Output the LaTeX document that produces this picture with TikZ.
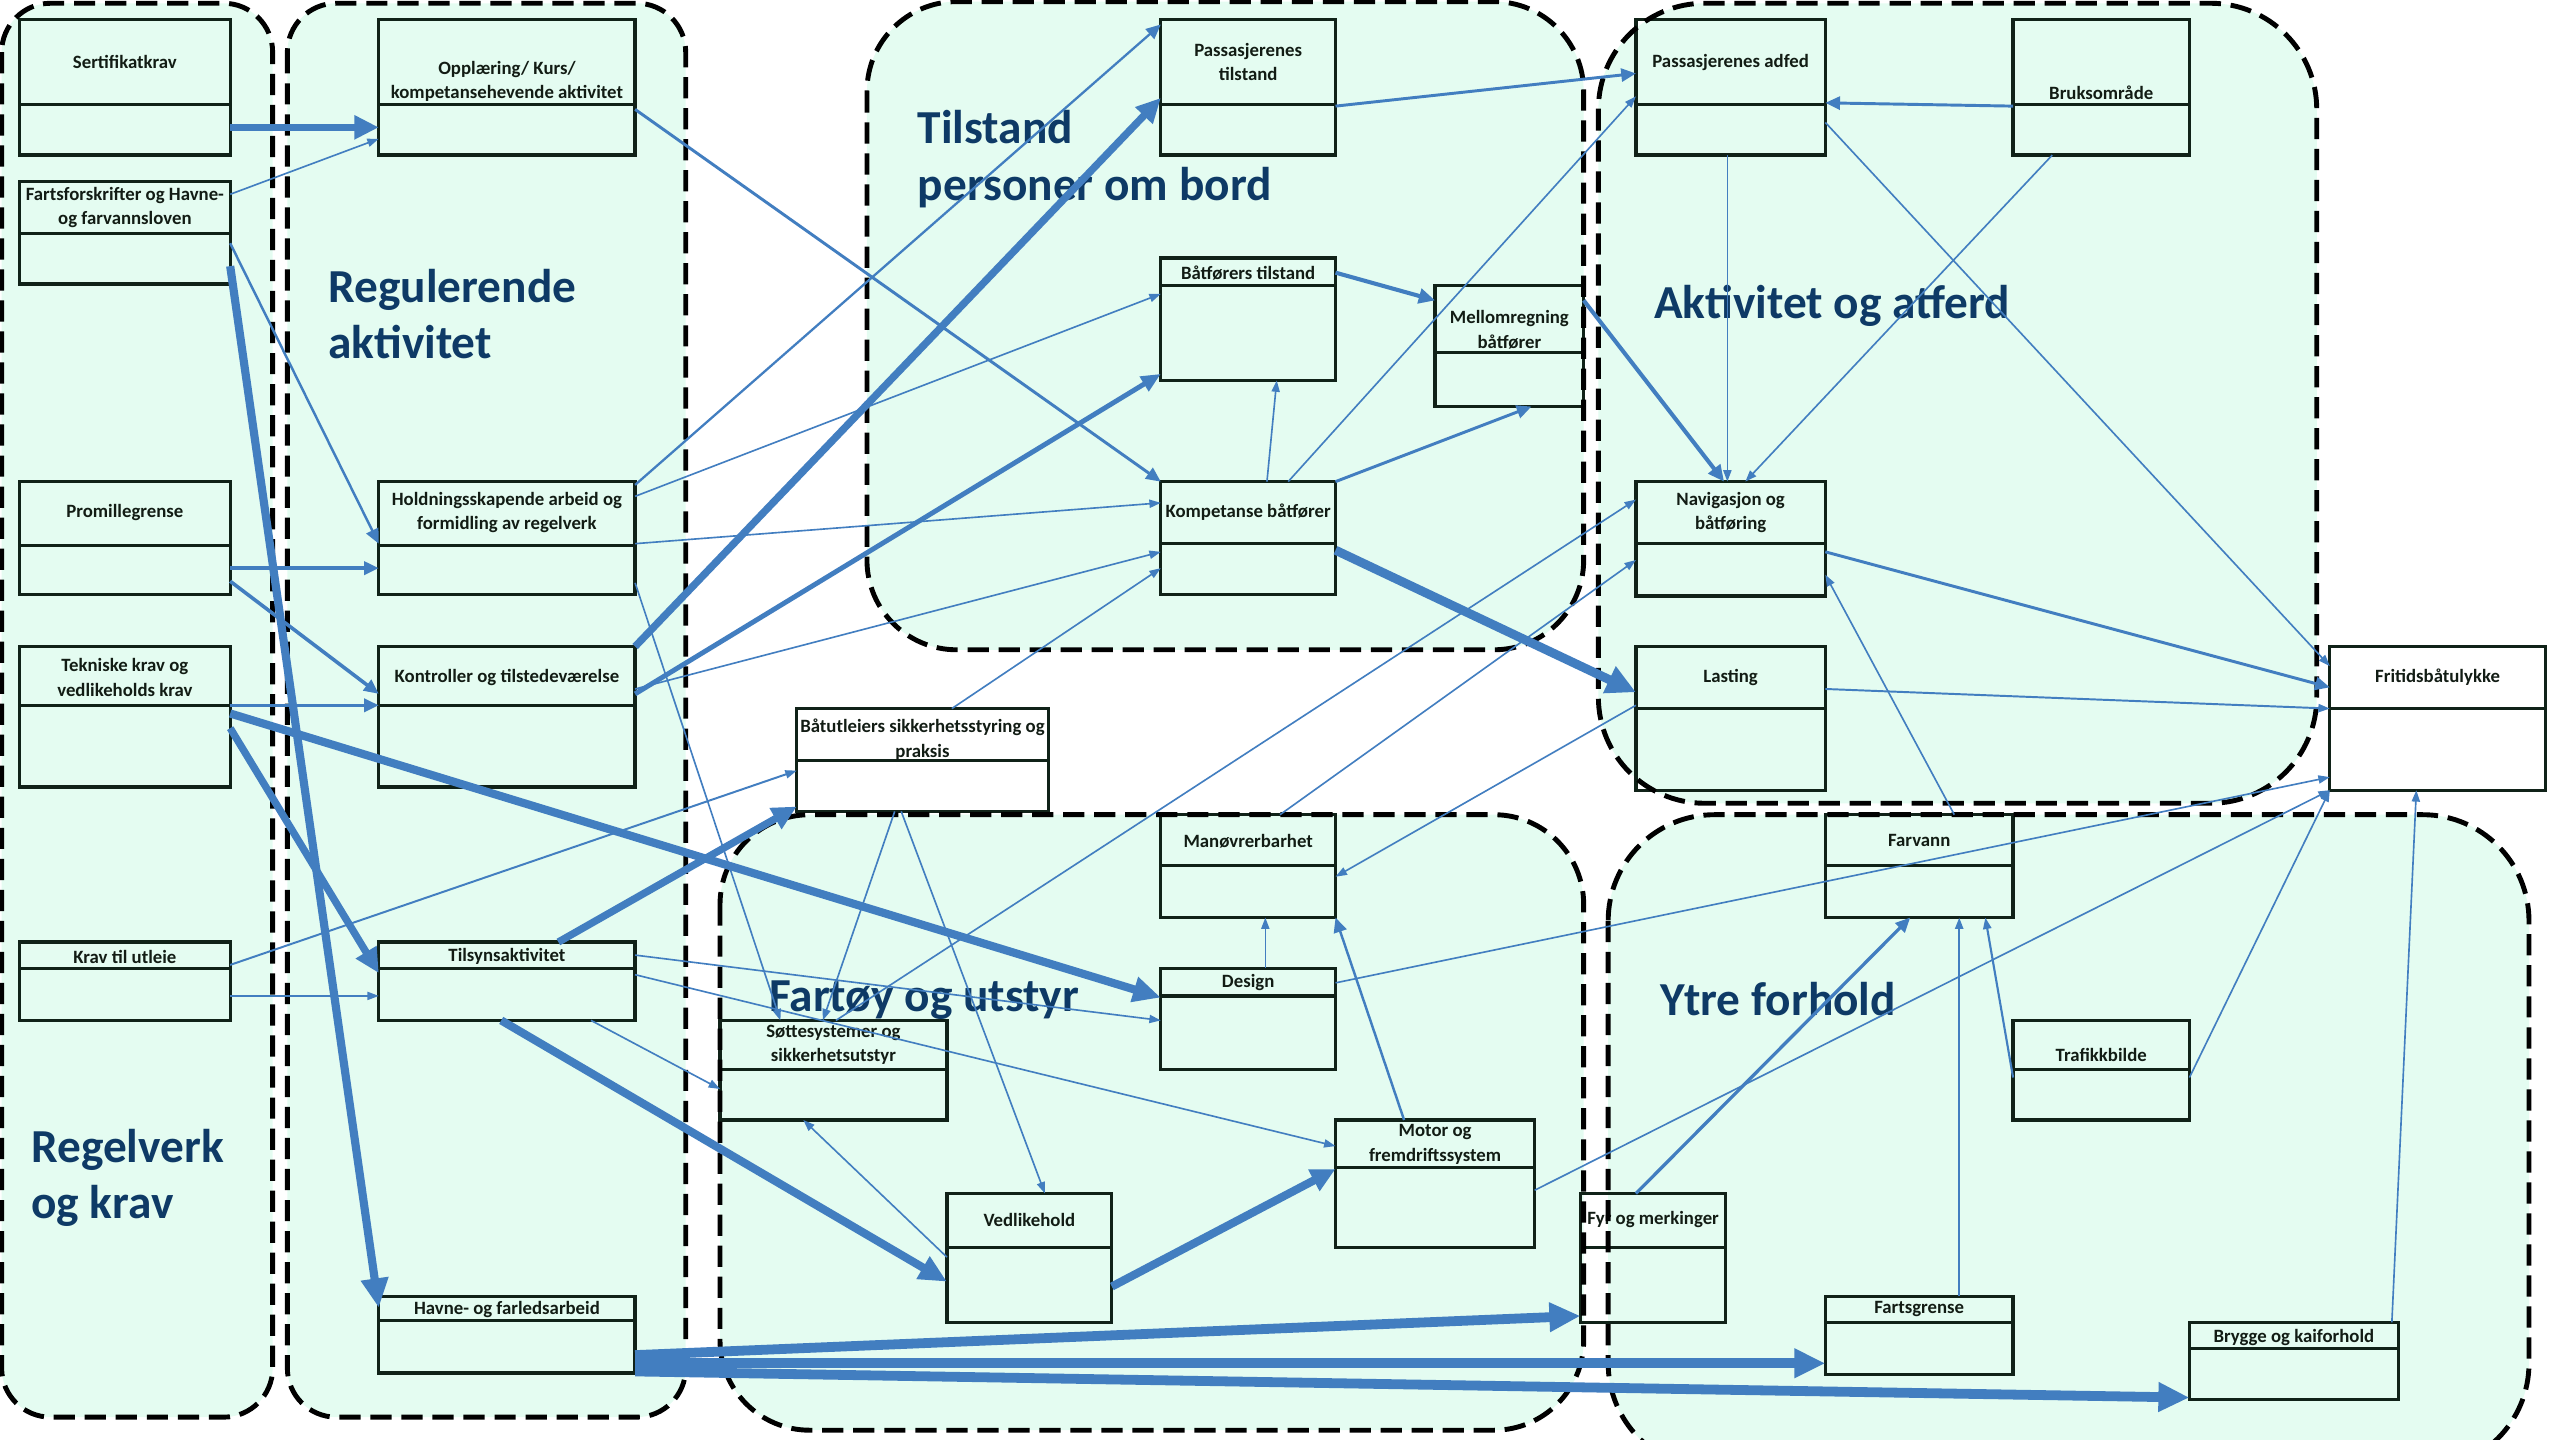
\documentclass[tikz,border=0pt]{standalone}
\usepackage{fontspec}
\setmainfont{Carlito}
\usetikzlibrary{arrows.meta}

\definecolor{mint}{RGB}{228,252,241}
\definecolor{conn}{RGB}{66,126,192}
\definecolor{edge}{RGB}{16,34,24}
\definecolor{titlec}{RGB}{14,58,102}
\definecolor{labelc}{RGB}{18,28,20}

\tikzset{
  region/.style={fill=mint, rounded corners=#1},
  regionedge/.style={draw=black, line width=3pt, dash pattern=on 13pt off 6pt, rounded corners=#1},
  umlbox/.style={draw=edge, line width=2pt, inner sep=0pt, outer sep=0pt, rectangle},
  boxdivider/.style={draw=edge, line width=2pt},
  boxlabel/.style={font=\fontsize{11.5}{15}\selectfont\bfseries, text=labelc, align=center, inner sep=0pt},
  grouptitle/.style={font=\fontsize{29}{34.5}\selectfont\bfseries, text=titlec, align=left, inner sep=0pt, anchor=north west},
  link/.style={draw=conn, line width=1pt, -{Triangle[length=7pt,width=5pt]}},
  medlink/.style={draw=conn, line width=1.8pt, -{Triangle[length=9pt,width=8pt]}},
  heavylink/.style={draw=conn, line width=4.5pt, -{Triangle[length=15pt,width=14pt]}},
  xheavylink/.style={draw=conn, line width=6pt, -{Triangle[length=19pt,width=17pt]}},
}

% two-compartment box: name, x1, y1, x2, y2, divider y, label y, label
\newcommand{\classbox}[8]{%
  \node[umlbox, minimum width={(#4)-(#2)}, minimum height={(#5)-(#3)}, anchor=north west] (#1) at (#2,#3) {};
  \draw[boxdivider] (#1.west |- 0,#6) -- (#1.east |- 0,#6);
  \node[boxlabel] (#1-t) at ({((#2)+(#4))/2},#7) {#8};
}

\begin{document}
\begin{tikzpicture}[x=1pt, y=-1pt]
\useasboundingbox (0,0) rectangle (1568,882);
\clip (0,0) rectangle (1568,882);

% group backgrounds
\path[region=30] (1,2) rectangle (167,868);
\path[region=30] (176,2) rectangle (420,868);
\path[region=55] (531,1) rectangle (970,398);
\path[region=65] (979,2) rectangle (1419,492);
\path[region=55] (441,499) rectangle (970,876);
\path[region=65] (985,499) rectangle (1549,900);

% group titles
\node[grouptitle] (t-regel) at (19,691.5) {Regelverk\\og krav};
\node[grouptitle] (t-regul) at (201,164.5) {Regulerende\\aktivitet};
\node[grouptitle] (t-tilst) at (562,67.5) {Tilstand\\personer om bord};
\node[grouptitle] (t-aktiv) at (1013,174.5) {Aktivitet og atferd};
\node[grouptitle] (t-fart) at (471,600.5) {Fartøy og utstyr};
\node[grouptitle] (t-ytre) at (1017,601.5) {Ytre forhold};

% boxes
\classbox{sert}{12}{12}{141}{95}{64}{38}{Sertifikatkrav}
\classbox{farts}{12}{111}{141}{174}{143}{127}{Fartsforskrifter og Havne-\\og farvannsloven}
\classbox{prom}{12}{295}{141}{364}{334}{314}{Promillegrense}
\classbox{tekn}{12}{396}{141}{482}{432}{415}{Tekniske krav og\\vedlikeholds krav}
\classbox{utleie}{12}{577}{141}{625}{593}{586}{Krav til utleie}
\classbox{oppl}{232}{12}{389}{95}{64}{50}{Opplæring/ Kurs/\\kompetansehevende aktivitet}
\classbox{hold}{232}{295}{389}{364}{334}{314}{Holdningsskapende arbeid og\\formidling av regelverk}
\classbox{kontr}{232}{396}{389}{482}{432}{415}{Kontroller og tilstedeværelse}
\classbox{tilsyn}{232}{577}{389}{625}{593}{586}{Tilsynsaktivitet}
\classbox{havne}{232}{794}{389}{841}{809}{802}{Havne- og farledsarbeid}
\classbox{passt}{711}{12}{818}{95}{64}{38}{Passasjerenes\\tilstand}
\classbox{batt}{711}{158}{818}{233}{175}{167}{Båtførers tilstand}
\classbox{mellom}{879}{175}{970}{249}{216}{202}{Mellomregning\\båtfører}
\classbox{komp}{711}{295}{818}{364}{333}{314}{Kompetanse båtfører}
\classbox{utleier}{488}{434}{642}{497}{466}{453}{Båtutleiers sikkerhetsstyring og\\praksis}
\classbox{manov}{711}{499}{818}{562}{530}{515}{Manøvrerbarhet}
\classbox{design}{711}{593}{818}{655}{610}{602}{Design}
\classbox{sott}{441}{625}{580}{686}{655}{640}{Søttesystemer og\\sikkerhetsutstyr}
\classbox{vedl}{580}{731}{681}{810}{764}{747}{Vedlikehold}
\classbox{motor}{818}{686}{940}{764}{715}{701}{Motor og\\fremdriftssystem}
\classbox{passa}{1002}{12}{1118}{95}{64}{38}{Passasjerenes adfed}
\classbox{bruk}{1233}{12}{1341}{95}{64}{57}{Bruksområde}
\classbox{nav}{1002}{295}{1118}{365}{333}{314}{Navigasjon og\\båtføring}
\classbox{last}{1002}{396}{1118}{484}{434}{415}{Lasting}
\classbox{ulykke}{1427}{396}{1559}{484}{434}{415}{Fritidsbåtulykke}
\classbox{farvann}{1118}{499}{1233}{562}{530}{515}{Farvann}
\classbox{trafikk}{1233}{625}{1341}{686}{655}{646}{Trafikkbilde}
\classbox{fyr}{968}{731}{1057}{810}{764}{747}{Fyr og merkinger}
\classbox{fartsg}{1118}{794}{1233}{842}{810}{802}{Fartsgrense}
\classbox{brygge}{1341}{810}{1469}{857}{826}{819}{Brygge og kaiforhold}

% dashed group outlines
\draw[regionedge=30] (1,2) rectangle (167,868);
\draw[regionedge=30] (176,2) rectangle (420,868);
\draw[regionedge=55] (531,1) rectangle (970,398);
\draw[regionedge=65] (979,2) rectangle (1419,492);
\draw[regionedge=55] (441,499) rectangle (970,876);
\draw[regionedge=65] (985,499) rectangle (1549,900);

% connectors from the rules column
\draw[heavylink, line width=4pt] (sert.east |- 0,78) -- (oppl.west |- 0,78);
\draw[link] (farts.east |- 0,119) -- (oppl.west |- 0,85);
\draw[medlink, line width=1.5pt] (farts.east |- 0,149) -- (hold.west |- 0,333);
\draw[heavylink, line width=5pt, -{Triangle[length=18pt,width=16pt]}] (farts.east |- 0,163) -- (havne.west |- 0,801);
\draw[medlink, line width=2.2pt] (prom.east |- 0,348) -- (hold.west |- 0,348);
\draw[medlink, line width=2.2pt] (prom.east |- 0,356) -- (kontr.west |- 0,425);
\draw[medlink, line width=2.2pt] (tekn.east |- 0,432) -- (kontr.west |- 0,432);
\draw[heavylink, line width=5pt, -{Triangle[length=17pt,width=15pt]}] (tekn.east |- 0,437) -- (design.west |- 0,611);
\draw[heavylink] (tekn.east |- 0,446) -- (tilsyn.west |- 0,596);
\draw[link, line width=1.2pt] (utleie.east |- 0,591) -- (utleier.west |- 0,472);
\draw[link] (utleie.east |- 0,610) -- (tilsyn.west |- 0,610);

% connectors from the regulating activities
\draw[medlink] (oppl.east |- 0,67) -- (komp.north west);
\draw[medlink, line width=1.4pt] (hold.east |- 0,297) -- (passt.west |- 0,15);
\draw[link] (hold.east |- 0,304) -- (batt.west |- 0,180);
\draw[link] (hold.east |- 0,333) -- (komp.west |- 0,308);
\draw[link] (hold.east |- 0,357) -- (sott.north -| 478,0);
\draw[heavylink] (kontr.north east) -- (passt.west |- 0,60);
\draw[heavylink, line width=3pt, -{Triangle[length=12pt,width=10pt]}] (kontr.east |- 0,425) -- (batt.west |- 0,229);
\draw[link] (kontr.east |- 0,422) -- (komp.west |- 0,338);
\draw[heavylink] (tilsyn.north -| 342,0) -- (utleier.west |- 0,494);
\draw[link] (tilsyn.east |- 0,585) -- (design.west |- 0,625);
\draw[link] (tilsyn.east |- 0,597) -- (motor.west |- 0,702);
\draw[link] (tilsyn.south -| 362,0) -- (sott.west |- 0,667);
\draw[heavylink, line width=5pt, -{Triangle[length=17pt,width=15pt]}] (tilsyn.south -| 307,0) -- (vedl.west |- 0,785);
\draw[xheavylink] (havne.east |- 0,830) -- (fyr.west |- 0,806);
\draw[xheavylink] (havne.east |- 0,835) -- (fartsg.west |- 0,835);
\draw[xheavylink] (havne.east |- 0,840) -- (brygge.west |- 0,856);

% connectors between conditions, behaviour and vessel
\draw[medlink] (passt.east |- 0,65) -- (passa.west |- 0,45);
\draw[medlink, line width=2.5pt, -{Triangle[length=10pt,width=9pt]}] (batt.east |- 0,167) -- (mellom.west |- 0,184);
\draw[link] (komp.north -| 776,0) -- (batt.south -| 782,0);
\draw[link] (komp.north -| 789,0) -- (passa.west |- 0,59);
\draw[medlink] (komp.north east) -- (mellom.south -| 938,0);
\draw[heavylink, line width=5.5pt, -{Triangle[length=18pt,width=17pt]}] (komp.east |- 0,337) -- (last.west |- 0,424);
\draw[medlink, line width=2.5pt, -{Triangle[length=10pt,width=9pt]}] (mellom.east |- 0,184) -- (nav.north -| 1056,0);
\draw[link] (passa.south -| 1058,0) -- (nav.north -| 1058,0);
\draw[link] (passa.east |- 0,75) -- (ulykke.west |- 0,408);
\draw[medlink] (bruk.west |- 0,65) -- (passa.east |- 0,63);
\draw[link] (bruk.south -| 1257,0) -- (nav.north -| 1069,0);
\draw[medlink] (nav.east |- 0,338) -- (ulykke.west |- 0,421);
\draw[link, line width=1.2pt] (last.east |- 0,422) -- (ulykke.west |- 0,434);
\draw[link] (utleier.north -| 583,0) -- (komp.west |- 0,348);
\draw[link] (utleier.south -| 548,0) -- (sott.north -| 504,0);
\draw[link] (utleier.south -| 552,0) -- (vedl.north -| 640,0);
\draw[link] (vedl.west |- 0,770) -- (sott.south -| 492,0);
\draw[heavylink, line width=5pt] (vedl.east |- 0,788) -- (motor.west |- 0,716);
\draw[link] (design.north -| 775,0) -- (manov.south -| 775,0);
\draw[medlink, line width=1.5pt] (motor.north -| 860,0) -- (manov.south east);
\draw[link] (sott.north -| 512,0) -- (nav.west |- 0,306);
\draw[link] (manov.north -| 784,0) -- (nav.west |- 0,343);
\draw[link] (last.west |- 0,432) -- (manov.east |- 0,537);
\draw[link] (design.east |- 0,602) -- (ulykke.west |- 0,476);
\draw[link] (motor.east |- 0,729) -- (ulykke.south west);
\draw[link] (trafikk.east |- 0,660) -- (ulykke.south west);
\draw[medlink, line width=2pt] (fyr.north -| 1002,0) -- (farvann.south -| 1170,0);
\draw[link, line width=1.3pt] (fartsg.north -| 1200,0) -- (farvann.south -| 1200,0);
\draw[link, line width=1.3pt] (trafikk.west |- 0,660) -- (farvann.south -| 1216,0);
\draw[link] (farvann.north -| 1197,0) -- (nav.east |- 0,352);
\draw[link] (brygge.north -| 1465,0) -- (ulykke.south -| 1480,0);
\end{tikzpicture}
\end{document}
